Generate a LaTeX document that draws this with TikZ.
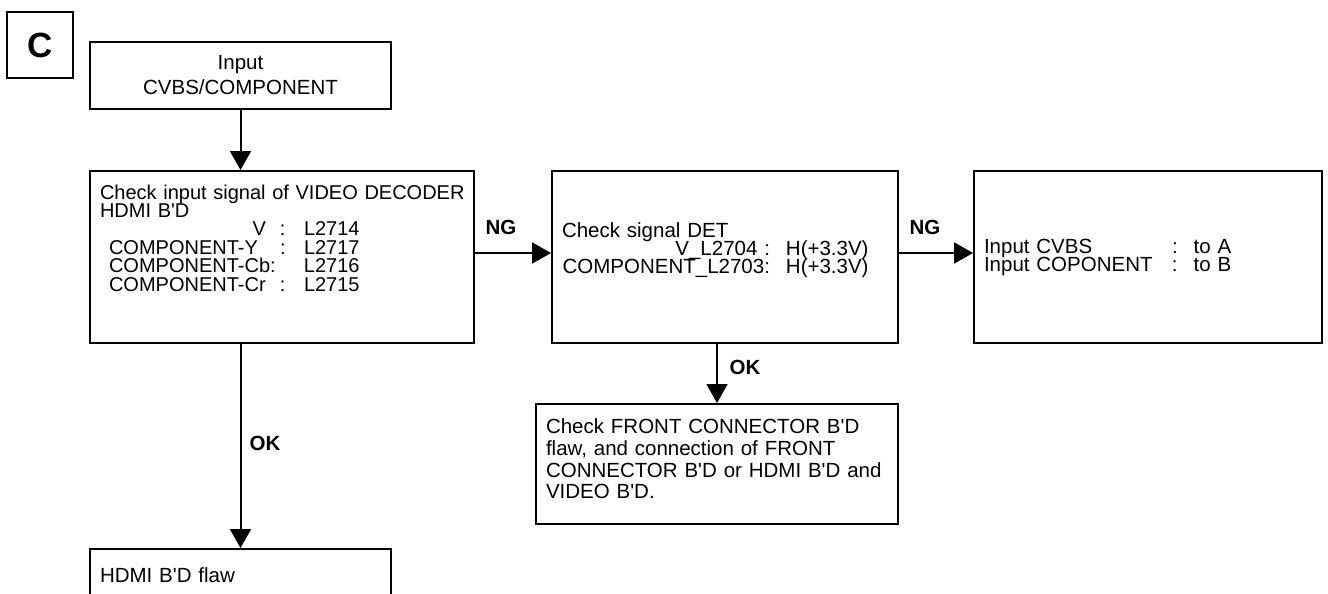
\documentclass[tikz,border=0pt]{standalone}
\usepackage{fontspec}
\setmainfont{Liberation Sans}[Ligatures=TeXOff]
\usetikzlibrary{positioning,arrows.meta}

% one pin line: label part in a fixed field, then the value
\newcommand{\pin}[3]{\makebox[#1][l]{#2}#3}

\begin{document}
\begin{tikzpicture}[
  x=0.5pt, y=-0.5pt,
  box/.style={draw, line width=1pt, anchor=north west, inner xsep=5pt, inner ysep=0pt, align=left,
    execute at begin node={\lineskiplimit=-50pt}},
  chip/.style={draw, line width=1pt, anchor=north west, minimum size=33pt, inner sep=0pt, font=\bfseries\fontsize{17.5}{20}\selectfont},
  tag/.style={font=\bfseries\fontsize{10.25}{12}\selectfont},
  arrow/.style={-{Triangle[length=9.5pt, width=10.5pt]}, line width=1pt}
]
  \useasboundingbox (0,0) rectangle (1328,594);

  \node[chip] (tagc) at (6,11) {C};
  \node[box, align=center, minimum width=150.5pt, minimum height=33.5pt, font=\fontsize{10.25}{12.5}\selectfont] (input) at (89,41) {Input\\CVBS/COMPONENT};

  \node[box, text width=182pt, minimum height=86pt, font=\fontsize{10}{9.2}\selectfont] (chk) at (89,170) {%
    \mbox{Check input signal of VIDEO DECODER}\\
    HDMI B'D\\
    \pin{102pt}{\makebox[90pt][r]{V\hspace{7pt}}:}{L2714}\\
    \pin{102pt}{\hspace*{4.5pt}\makebox[85.5pt][l]{COMPONENT-Y}:}{L2717}\\
    \pin{102pt}{\hspace*{4.5pt}COMPONENT-Cb:}{L2716}\\
    \pin{102pt}{\hspace*{4.5pt}\makebox[85.5pt][l]{COMPONENT-Cr}:}{L2715}\par\kern19pt};
  \node[box, text width=163pt, minimum height=86pt, font=\fontsize{10.25}{9}\selectfont] (det) at (551,170) {%
    Check signal DET\\
    \pin{112pt}{\makebox[104pt][r]{V\_L2704 :}}{H(+3.3V)}\\
    \pin{112pt}{\makebox[104pt][r]{COMPONENT\_L2703:}}{H(+3.3V)}\par\kern7pt};
  \node[box, text width=164pt, minimum height=86pt, font=\fontsize{10.25}{9}\selectfont] (res) at (973,170) {%
    \pin{94pt}{Input CVBS}{:\hspace{8pt}to A}\\
    \pin{94pt}{Input COPONENT}{:\hspace{8pt}to B}};
  \node[box, text width=171pt, minimum height=60pt, font=\fontsize{10.25}{10.85}\selectfont] (front) at (535,403) {%
    Check FRONT CONNECTOR B'D\\
    flaw, and connection of FRONT\\
    CONNECTOR B'D or HDMI B'D and\\
    VIDEO B'D.\par\kern5pt};
  \node[box, text width=140.5pt, minimum height=26.5pt, font=\fontsize{10.25}{9}\selectfont] (flaw) at (89,548) {HDMI B'D flaw};

  \node[tag] (ng1) at (501,227) {NG};
  \node[tag] (ng2) at (925,227) {NG};
  \node[tag] (ok1) at (745,367) {OK};
  \node[tag] (ok2) at (265,443) {OK};

  \draw[arrow] (input.south) -- (input.south |- chk.north);
  \draw[arrow] ([yshift=2pt]chk.east) -- ([yshift=2pt]det.west);
  \draw[arrow] ([yshift=2pt]det.east) -- ([yshift=2pt]res.west);
  \draw[arrow] (front.north |- det.south) -- (front.north);
  \draw[arrow] (flaw.north |- chk.south) -- (flaw.north);
\end{tikzpicture}
\end{document}
